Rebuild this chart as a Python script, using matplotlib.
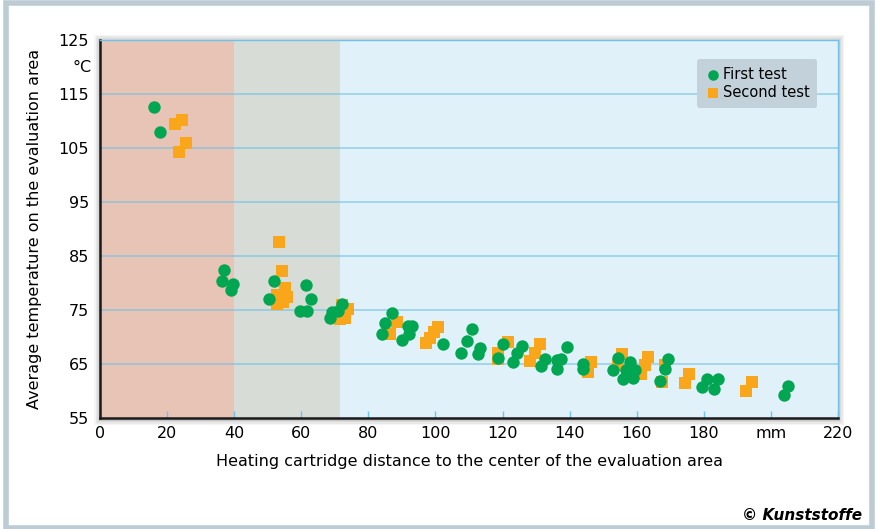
import matplotlib
matplotlib.use("Agg")
import matplotlib.pyplot as plt
from matplotlib.patches import Rectangle

plt.rcParams['font.family'] = ['Liberation Sans Narrow', 'DejaVu Sans']

# first test (green circles): distance in mm, temperature in degC
first_x = [16.2, 17.9,
           37.0, 36.4, 39.7, 39.0,
           52.0, 50.3, 61.3, 62.9, 59.6, 61.6,
           68.6, 69.2, 71.0, 72.0,
           86.9, 84.9, 84.0, 91.7, 92.9, 92.2, 89.9,
           102.3,
           110.8, 109.3, 107.6, 113.3, 112.6,
           120.1, 118.5,
           125.7, 124.2, 123.2,
           132.6, 131.4,
           139.1, 137.4, 136.1, 136.1,
           144.1, 143.9,
           154.5, 152.9, 157.9, 156.9, 155.9, 159.5, 159.0,
           169.4, 168.4, 166.9,
           180.8, 184.3, 179.6, 183.0,
           205.0, 203.9]
first_y = [112.6, 107.9,
           82.4, 80.3, 79.9, 78.7,
           80.4, 77.0, 79.6, 77.1, 74.9, 74.9,
           73.5, 74.6, 74.8, 76.1,
           74.5, 72.6, 70.5, 72.1, 72.1, 70.6, 69.4,
           68.7,
           71.4, 69.3, 67.0, 68.0, 66.9,
           68.7, 66.2,
           68.4, 67.1, 65.3,
           66.0, 64.6,
           68.2, 66.0, 65.7, 64.1,
           65.0, 64.0,
           66.2, 63.8, 65.3, 63.8, 62.2, 63.8, 62.5,
           66.0, 64.0, 61.9,
           62.3, 62.3, 60.7, 60.4,
           61.0, 59.3]

# second test (orange squares)
second_x = [22.4, 24.4, 25.7, 23.6,
            53.4, 54.3, 55.1, 52.8, 55.6, 52.7, 54.6,
            72.0, 74.0, 73.0, 71.5,
            88.4, 86.4,
            100.8, 99.6, 98.4, 97.3,
            121.7, 118.7, 118.7,
            131.1, 129.7, 128.2,
            146.5, 145.5,
            155.5, 154.5,
            163.4, 162.4, 161.4,
            168.4, 167.4,
            175.6, 174.4,
            194.4, 192.7]
second_y = [109.4, 110.1, 106.0, 104.2,
            87.6, 82.2, 79.0, 77.8, 77.4, 76.2, 76.5,
            75.9, 75.1, 73.5, 73.4,
            72.8, 70.6,
            71.8, 70.9, 69.9, 68.8,
            69.0, 67.1, 65.9,
            68.7, 67.1, 65.6,
            65.3, 63.5,
            66.8, 64.9,
            66.3, 64.8, 63.2,
            64.9, 61.6,
            63.1, 61.4,
            61.7, 60.0]

zones = [(0, 40), (40, 71.5), (71.5, 220)]
zone_colors = ['#e8c4b6', '#d8dcd6', '#e1f1fa']
x_ticks = list(range(0, 221, 20))
x_labels = [str(v) if v != 200 else 'mm' for v in x_ticks]
y_ticks = list(range(55, 126, 10))
grid_vals = list(range(65, 116, 10))

green = '#00a651'
orange = '#f9a61b'

fig = plt.figure(figsize=(8.77, 5.29), dpi=100)

# outer frame
fig.patches.append(Rectangle((6 / 877, 1 / 529), 866 / 877, 525 / 529,
                             transform=fig.transFigure, facecolor='white',
                             edgecolor='#bccbd4', linewidth=4, zorder=-2))

ax_left, ax_bottom = 100 / 877, 1 - 418 / 529
ax_w, ax_h = 738 / 877, 378 / 529

# soft shadow behind the plot area
for i, a in enumerate([0.04, 0.05, 0.06, 0.08]):
    d = (4 - i) * 1.5
    fig.patches.append(Rectangle((ax_left - d / 877, ax_bottom - (d + 1) / 529),
                                 ax_w + 2 * d / 877, ax_h + (2 * d) / 529,
                                 transform=fig.transFigure, facecolor='black',
                                 edgecolor='none', alpha=a, zorder=-1))

ax = fig.add_axes([ax_left, ax_bottom, ax_w, ax_h])
ax.set_zorder(2)
ax.set_xlim(0, 220)
ax.set_ylim(55, 125)

for (x0, x1), c in zip(zones, zone_colors):
    ax.axvspan(x0, x1, color=c, lw=0, zorder=0)
for v in grid_vals:
    ax.axhline(v, color='#6cc0e2', alpha=0.6, lw=1.3, zorder=1)

ax.scatter(first_x, first_y, s=80, marker='o', color=green, lw=0, zorder=4,
           label='First test')
ax.scatter(second_x, second_y, s=70, marker='s', color=orange, lw=0, zorder=3,
           label='Second test')

ax.set_xticks(x_ticks)
ax.set_xticklabels(x_labels)
ax.set_yticks(y_ticks)
ax.tick_params(axis='x', direction='in', length=5, width=1, color='#6cc4ea',
               labelsize=11.5, pad=6)
ax.tick_params(axis='y', length=0, labelsize=11.5, pad=8)
ax.text(-0.012, 120, '°C', transform=ax.get_yaxis_transform(), ha='right',
        va='center', fontsize=11.5)

for side in ['left', 'bottom']:
    ax.spines[side].set_color('#1a1a1a')
    ax.spines[side].set_linewidth(1.8)
for side in ['top', 'right']:
    ax.spines[side].set_color('#6cc4ea')
    ax.spines[side].set_linewidth(1)

ax.set_xlabel('Heating cartridge distance to the center of the evaluation area',
              fontsize=11.5, labelpad=9)
ax.set_ylabel('Average temperature on the evaluation area', fontsize=11.5,
              labelpad=12)

leg = ax.legend(loc='upper right', bbox_to_anchor=(0.982, 0.968), fontsize=10.5,
                frameon=True, fancybox=True, facecolor='#c3d2da',
                edgecolor='none', framealpha=1, handletextpad=0.1,
                borderpad=0.5, labelspacing=0.25, handlelength=1.2,
                markerscale=0.85)

fig.text(862 / 877, 1 - 515 / 529, '© Kunststoffe', ha='right', va='center',
         fontsize=11, fontweight='bold', fontstyle='italic')

fig.savefig('out.png', dpi=100)
